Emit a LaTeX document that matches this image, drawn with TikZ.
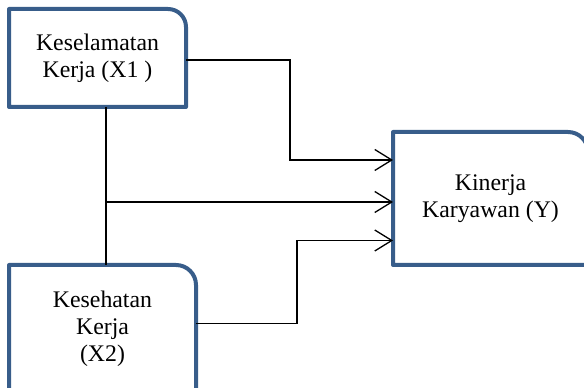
\documentclass[tikz,border=0pt]{standalone}
\usepackage{fontspec}
\setmainfont{Liberation Serif}
\usetikzlibrary{arrows.meta}
\definecolor{boxblue}{RGB}{56,93,138}
\begin{document}
\begin{tikzpicture}[x=1pt, y=1pt,
  arrow/.style={-{Straight Barb[length=17pt, width=21pt, line width=1.3pt]}, line width=1.3pt},
  line/.style={line width=1.3pt},
  box/.style={inner sep=0pt, outer sep=0pt, align=center, font=\fontsize{23.8}{27}\selectfont},
  border/.style={draw=boxblue, line width=4pt, line join=round}
]
  \useasboundingbox (0,0) rectangle (584,388);

  \node[box, minimum width=177pt, minimum height=98pt] (x1) at (97.5,330) {Keselamatan\\Kerja (X1 )};
  \node[box, minimum width=187pt, minimum height=127pt] (x2) at (102.5,59.5) {Kesehatan\\Kerja\\(X2)};
  \node[box, minimum width=195pt, minimum height=133pt] (y) at (490.5,189.5) {Kinerja\\Karyawan (Y)};

  \draw[border] (x1.south west) -- (x1.north west) [rounded corners=18pt] -- (x1.north east) [sharp corners] -- (x1.south east) -- cycle;
  \draw[border] (x2.south west) -- (x2.north west) [rounded corners=20pt] -- (x2.north east) [sharp corners] -- (x2.south east) -- cycle;
  \draw[border] (y.south west) -- (y.north west) [rounded corners=20pt] -- (y.north east) [sharp corners] -- (y.south east) -- cycle;

  \coordinate (in1) at ([yshift=38.5pt]y.west);
  \coordinate (in2) at ([yshift=-3.5pt]y.west);
  \coordinate (in3) at ([yshift=-42pt]y.west);
  \coordinate (tap) at ([xshift=8.5pt]x1.south);

  \draw[arrow] ([yshift=-2pt]x1.east) -| ([xshift=-103pt]in1) -- (in1);
  \draw[line] (tap) -- (tap |- x2.north);
  \draw[arrow] (tap |- in2) -- (in2);
  \draw[arrow] ([yshift=5pt]x2.east) -| ([xshift=-96pt]in3) -- (in3);
\end{tikzpicture}
\end{document}
